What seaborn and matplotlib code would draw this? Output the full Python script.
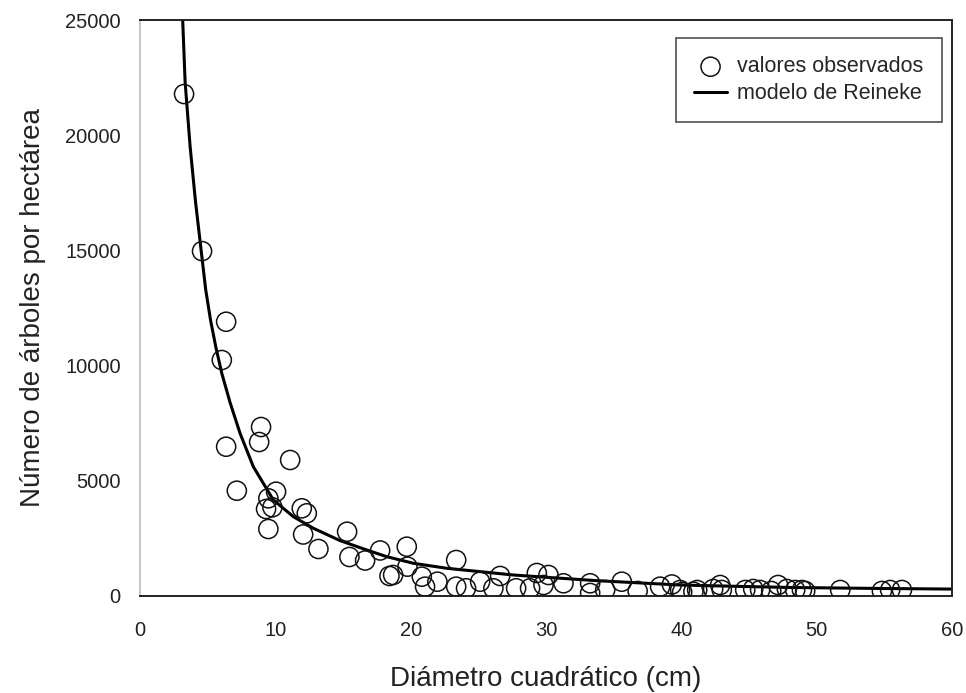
import matplotlib
matplotlib.use("Agg")
import matplotlib.pyplot as plt
import seaborn as sns
import pandas as pd

# observed values (Dq cm, trees/ha)
obs_dq = [3.25, 4.58, 6.36, 6.04, 8.94, 8.80, 6.36, 11.09, 7.15, 10.05, 9.48, 9.31, 9.78,
          11.95, 12.32, 9.48, 12.05, 13.18, 15.30, 15.47, 16.63, 17.74, 18.43, 19.71, 19.76,
          18.70, 20.82, 21.06, 21.97, 23.36, 23.36, 24.09, 25.13, 26.11, 26.61, 27.79, 28.82,
          29.32, 30.18, 29.81, 31.29, 33.26, 33.26, 34.37, 35.60, 36.77, 38.43, 39.30, 39.91,
          40.89, 40.06, 41.17, 42.35, 42.87, 42.99, 44.72, 45.31, 45.82, 46.64, 47.15, 47.80,
          48.41, 48.91, 49.15, 51.74, 54.82, 55.43, 56.30]
obs_n = [21790, 14970, 11905, 10243, 7335, 6684, 6480, 5903, 4570, 4527, 4240, 3776, 3850,
         3806, 3589, 2908, 2669, 2040, 2790, 1693, 1540, 1975, 868, 2140, 1272,
         911, 838, 404, 620, 1562, 404, 334, 620, 334, 868, 334, 334,
         998, 911, 477, 551, 551, 130, 260, 620, 217, 404, 500, 260,
         187, 174, 260, 304, 477, 260, 260, 304, 260, 217, 477, 304,
         260, 260, 217, 260, 217, 260, 260]

# Reineke model curve
mod_dq = [3.15, 3.33, 3.7, 4.1, 4.51, 4.85, 5.2, 5.6, 6.04, 6.65, 7.39, 8.37, 9.85, 11.33, 12.81,
          14.78, 16.75, 18.23, 20.2, 22.67, 25.13, 27.59, 30.06, 33.75, 37.45, 39.91, 44.0,
          48.0, 54.0, 60.0]
mod_n = [25000, 22300, 19500, 17100, 15017, 13300, 12000, 10800, 9665, 8400, 7060, 5612, 4167,
         3442, 2938, 2404, 1997, 1706, 1419, 1202, 1056, 911, 810, 665, 551, 477, 420,
         370, 330, 300]

x_ticks = [0, 10, 20, 30, 40, 50, 60]
y_ticks = [0, 5000, 10000, 15000, 20000, 25000]

sns.set_style("white")
plt.rcParams['font.family'] = ['Liberation Sans', 'DejaVu Sans']

fig = plt.figure(figsize=(9.66, 6.93), dpi=100)
ax = fig.add_axes([0.145, 0.140, 0.8405, 0.831])

obs = pd.DataFrame({"dq": obs_dq, "n": obs_n})
mod = pd.DataFrame({"dq": mod_dq, "n": mod_n})

sns.lineplot(data=mod, x="dq", y="n", ax=ax, color="black", linewidth=2.2,
             label="modelo de Reineke", zorder=2, sort=True)
sns.scatterplot(data=obs, x="dq", y="n", ax=ax, s=190, facecolor="none",
                edgecolor="#111111", linewidth=1.1, label="valores observados", zorder=3)

ax.set_xlim(0, 60)
ax.set_ylim(0, 25000)
ax.set_xticks(x_ticks)
ax.set_yticks(y_ticks)
ax.tick_params(axis="both", direction="out", length=5, width=1, labelsize=14.5,
               colors="#222222")
ax.tick_params(axis="x", pad=13)
ax.tick_params(axis="y", color="#bbbbbb", pad=9)
for s in ["top", "right", "bottom"]:
    ax.spines[s].set_color("#222222")
    ax.spines[s].set_linewidth(1.4)
ax.spines["left"].set_color("#bbbbbb")
ax.spines["left"].set_linewidth(1.2)

ax.set_xlabel("Diámetro cuadrático (cm)", fontsize=20, labelpad=19, color="#222222")
ax.set_ylabel("Número de árboles por hectárea", fontsize=20, labelpad=14, color="#222222")

h, l = ax.get_legend_handles_labels()
order = [l.index("valores observados"), l.index("modelo de Reineke")]
leg = ax.legend([h[i] for i in order], [l[i] for i in order], loc="upper right",
                bbox_to_anchor=(0.9877, 0.9688), fontsize=15.5, frameon=True, fancybox=False,
                edgecolor="#222222", handlelength=1.5, handletextpad=0.5, borderpad=0.85,
                labelspacing=0.27, borderaxespad=0)
leg.get_frame().set_linewidth(1.2)

fig.savefig("out.png", dpi=100)
